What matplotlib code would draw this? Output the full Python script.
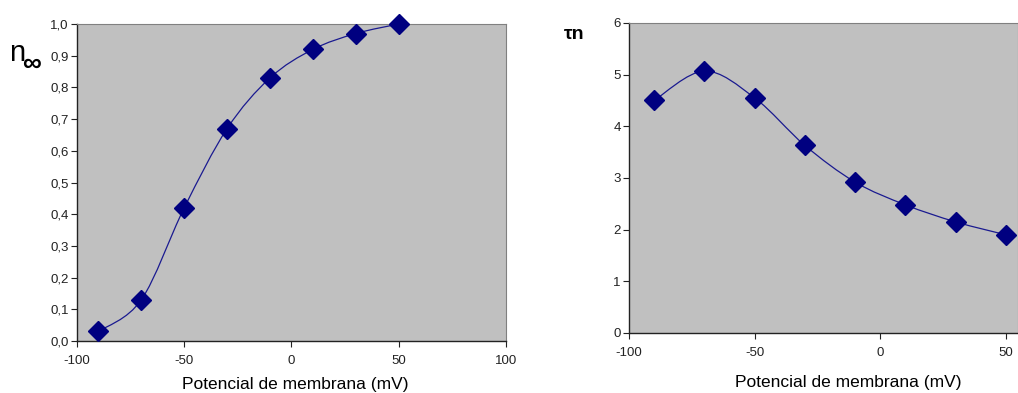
import matplotlib
matplotlib.use('Agg')
import matplotlib.pyplot as plt
from matplotlib.path import Path
from matplotlib.patches import PathPatch

plt.rcParams['font.family'] = ['Liberation Sans', 'DejaVu Sans']
plt.rcParams['axes.unicode_minus'] = False

# membrane potential (mV)
voltage = [-90, -70, -50, -30, -10, 10, 30, 50]
# steady-state activation n_inf
n_inf = [0.03, 0.13, 0.42, 0.67, 0.83, 0.92, 0.97, 1.00]
# time constant tau_n (ms)
tau_n = [4.50, 5.07, 4.55, 3.63, 2.92, 2.48, 2.15, 1.90]

n_ticks = [i / 10 for i in range(11)]
n_tick_labels = ['0,0', '0,1', '0,2', '0,3', '0,4', '0,5', '0,6', '0,7', '0,8', '0,9', '1,0']

BG = '#c0c0c0'
NAVY = '#000080'
LINE = '#1a1a90'


def smooth_path(xs, ys):
    """Bezier path through the points, Excel-style smoothed line."""
    pts = list(zip(xs, ys))
    verts = [pts[0]]
    codes = [Path.MOVETO]
    n = len(pts)
    for i in range(n - 1):
        p0 = pts[i - 1] if i > 0 else pts[i]
        p1 = pts[i]
        p2 = pts[i + 1]
        p3 = pts[i + 2] if i + 2 < n else pts[i + 1]
        c1 = (p1[0] + (p2[0] - p0[0]) / 6, p1[1] + (p2[1] - p0[1]) / 6)
        c2 = (p2[0] - (p3[0] - p1[0]) / 6, p2[1] - (p3[1] - p1[1]) / 6)
        verts += [c1, c2, p2]
        codes += [Path.CURVE4] * 3
    return Path(verts, codes)


def style_axes(ax):
    ax.set_facecolor(BG)
    for side in ('left', 'bottom'):
        ax.spines[side].set_color('#222222')
        ax.spines[side].set_linewidth(1.0)
    for side in ('top', 'right'):
        ax.spines[side].set_color('#808080')
        ax.spines[side].set_linewidth(0.8)
    ax.tick_params(direction='out', length=4, width=0.8, colors='#222222',
                   labelsize=9.5, pad=2)


def draw_series(ax, xs, ys):
    ax.add_patch(PathPatch(smooth_path(xs, ys), facecolor='none',
                           edgecolor=LINE, lw=0.9, zorder=3))
    ax.plot(xs, ys, linestyle='none', marker='D', markersize=10,
            color=NAVY, zorder=4, clip_on=False)


fig = plt.figure(figsize=(10.18, 3.93), dpi=100)

# left panel: n_inf
ax1 = fig.add_axes([0.0756, 0.1323, 0.4214, 0.8066])
style_axes(ax1)
draw_series(ax1, voltage, n_inf)
ax1.set_xlim(-100, 100)
ax1.set_ylim(0, 1.0)
ax1.set_xticks([-100, -50, 0, 50, 100])
ax1.set_yticks(n_ticks)
ax1.set_yticklabels(n_tick_labels)
ax1.tick_params(axis='x', pad=6)
fig.text(0.290, 0.022, 'Potencial de membrana (mV)', ha='center', va='center', fontsize=12.5)
fig.text(0.009, 0.866, 'n', fontsize=21, ha='left', va='center')
fig.text(0.022, 0.838, '\u221e', fontsize=19, fontweight='bold', ha='left', va='center')

# right panel: tau_n
ax2 = fig.add_axes([0.6179, 0.1527, 0.3821, 0.7888])
style_axes(ax2)
draw_series(ax2, voltage, tau_n)
ax2.set_xlim(-100, 54.8)
ax2.set_ylim(0, 6)
ax2.set_xticks([-100, -50, 0, 50])
ax2.set_yticks(range(7))
ax2.tick_params(axis='x', pad=6)
fig.text(0.833, 0.026, 'Potencial de membrana (mV)', ha='center', va='center', fontsize=12.5)
fig.text(0.554, 0.912, '\u03c4n', fontsize=14, fontweight='bold', ha='left', va='center')

fig.savefig('out.png', dpi=100)
